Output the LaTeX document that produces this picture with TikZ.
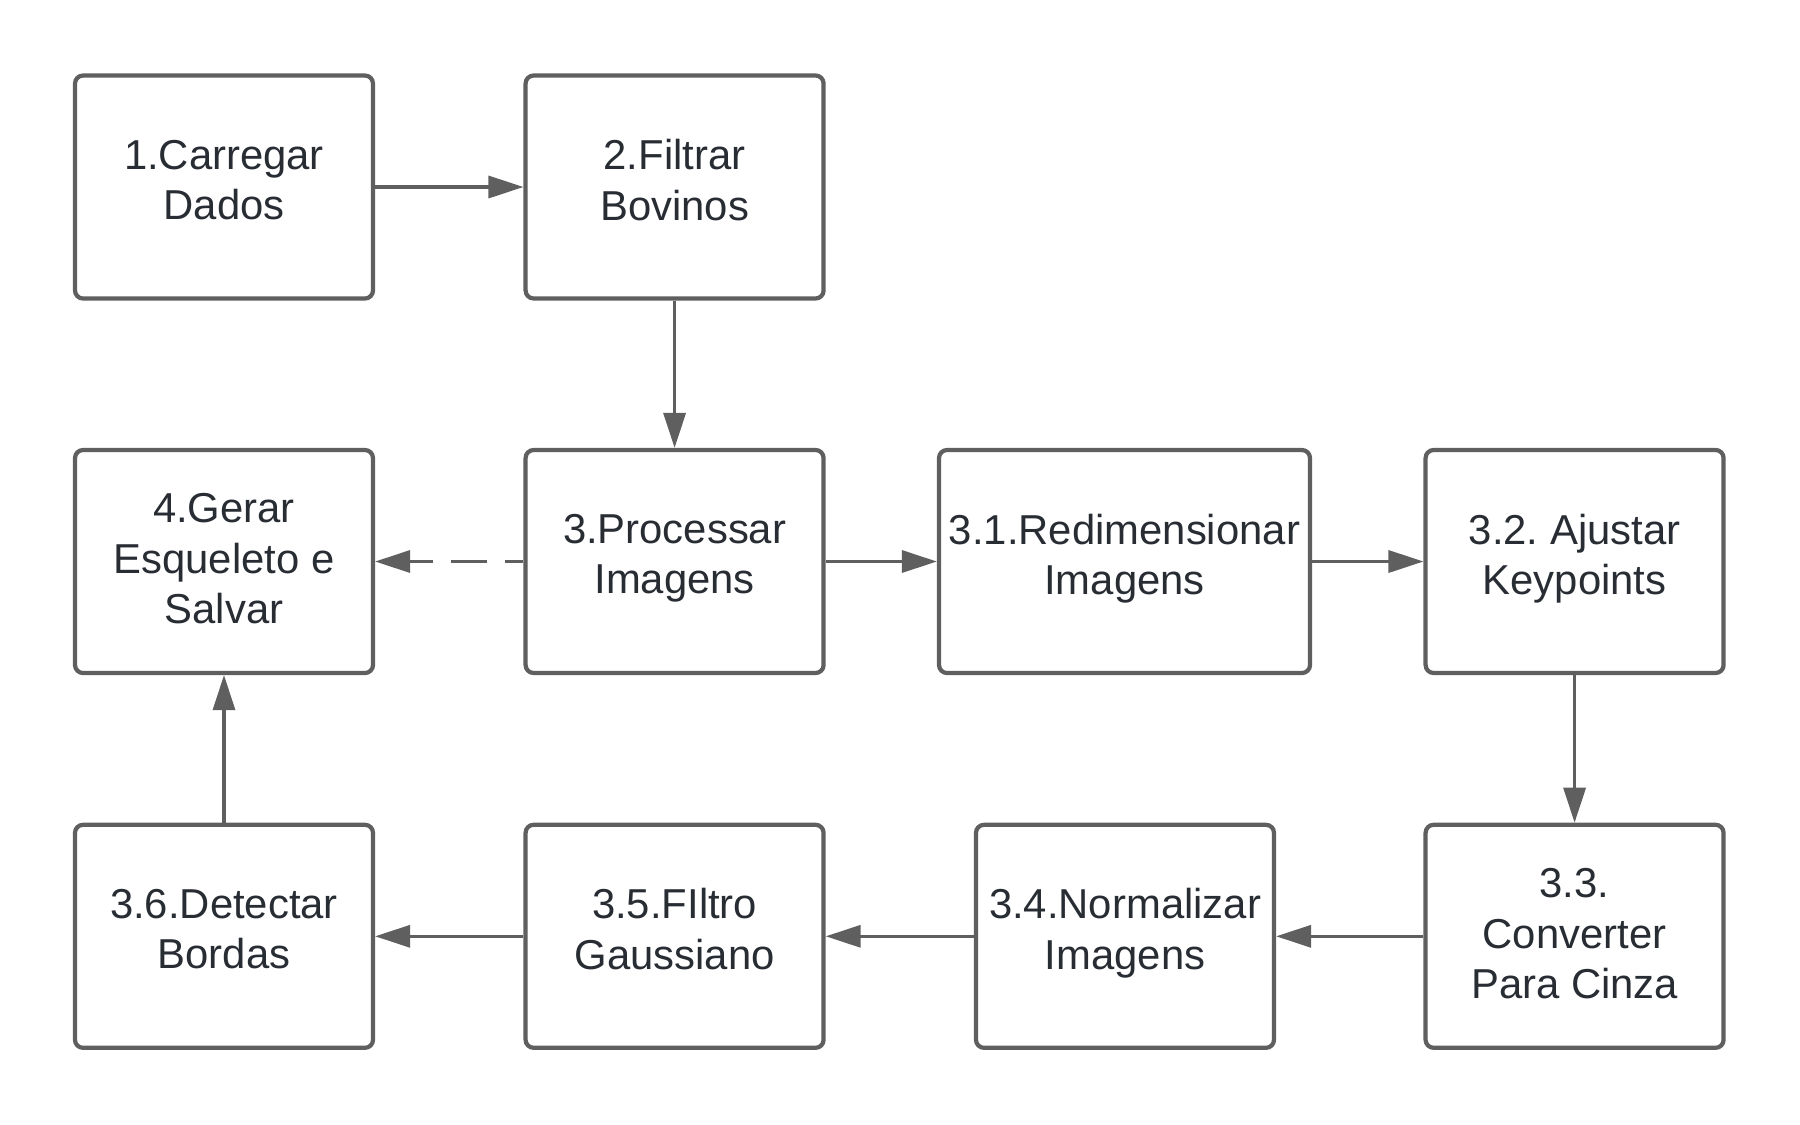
\documentclass[tikz,border=0pt]{standalone}
\usepackage{fontspec}
\setmainfont{Liberation Sans}
\usetikzlibrary{arrows.meta}
\definecolor{edgegray}{HTML}{5F5F5F}
\definecolor{textdark}{HTML}{282C33}
\newcommand{\boxstrut}{\rule[-4.2pt]{0pt}{13.8pt}}
\newcommand{\tallstrut}{\rule[-4.2pt]{0pt}{15.1pt}}

\begin{document}
\begin{tikzpicture}[
		stepbox/.style={draw=edgegray, line width=1.2pt, rounded corners=0.08cm, fill=white, text=textdark, align=center, minimum width=2.98cm, minimum height=2.23cm, inner sep=0pt, font=\fontsize{11.9}{14.35}\selectfont\frenchspacing, execute at begin node=\boxstrut, execute at end node=\boxstrut},
		widebox/.style={stepbox, minimum width=3.71cm},
		flow/.style={draw=edgegray, line width=0.95pt, -{Triangle[length=0.35cm, width=0.22cm]}}
	]
		\useasboundingbox (0, 0) rectangle (18, -11.25);
		\node [stepbox] (carregar) at (2.24, -1.87) {1.Carregar\\Dados};
		\node [stepbox] (filtrar) at (6.746, -1.87) {2.Filtrar\\Bovinos};
		\node [stepbox] (processar) at (6.746, -5.615) {3.Processar\\Imagens};
		\node [stepbox] (gerar) at (2.24, -5.615) {\tallstrut 4.Gerar\\Esqueleto e\\Salvar};
		\node [widebox] (redim) at (11.245, -5.615) {3.1.Redimensionar\\Imagens};
		\node [stepbox] (ajustar) at (15.746, -5.615) {3.2. Ajustar\\Keypoints};
		\node [stepbox] (cinza) at (15.746, -9.363) {\tallstrut 3.3.\\Converter\\Para Cinza};
		\node [stepbox] (normal) at (11.25, -9.363) {3.4.Normalizar\\Imagens};
		\node [stepbox] (gauss) at (6.746, -9.363) {3.5.FIltro\\Gaussiano};
		\node [stepbox] (bordas) at (2.24, -9.363) {3.6.Detectar\\Bordas};
		\draw [flow] (carregar) -- (filtrar);
		\draw [flow] (filtrar) -- (processar);
		\draw [flow] (processar) -- (redim);
		\draw [flow] (redim) -- (ajustar);
		\draw [flow] (ajustar) -- (cinza);
		\draw [flow] (cinza) -- (normal);
		\draw [flow] (normal) -- (gauss);
		\draw [flow] (gauss) -- (bordas);
		\draw [flow] (bordas) -- (gerar);
		\draw [flow, dash pattern=on 0.36cm off 0.18cm, dash phase=0.18cm] (processar) -- (gerar);
\end{tikzpicture}
\end{document}
